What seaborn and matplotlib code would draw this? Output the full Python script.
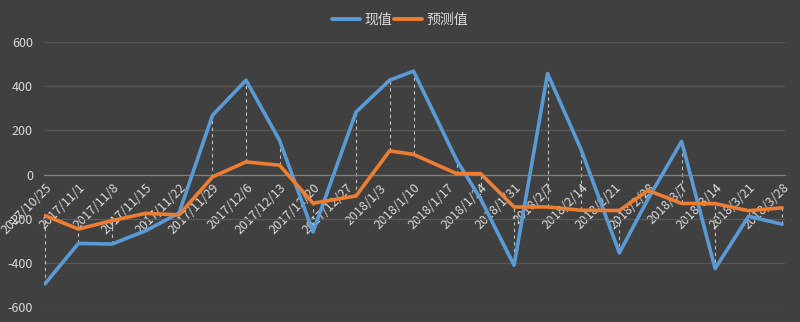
import matplotlib
matplotlib.use("Agg")
import matplotlib.pyplot as plt
import matplotlib.dates as mdates
import seaborn as sns
import pandas as pd
import numpy as np

dates = ["2017-10-25", "2017-11-01", "2017-11-08", "2017-11-15", "2017-11-22",
         "2017-11-29", "2017-12-06", "2017-12-13", "2017-12-20", "2017-12-29",
         "2018-01-05", "2018-01-10", "2018-01-19", "2018-01-24", "2018-01-31",
         "2018-02-07", "2018-02-14", "2018-02-22", "2018-02-28", "2018-03-07",
         "2018-03-14", "2018-03-21", "2018-03-28"]
actual = [-495, -312, -315, -255, -175, 268, 427, 155, -260, 283, 427, 468,
          65, -110, -411, 457, 113, -355, -110, 150, -426, -189, -225]
forecast = [-186, -247, -209, -176, -183, -11, 57, 42, -130, -97, 107, 91,
            4, 4, -147, -147, -162, -163, -72, -131, -132, -164, -151]
series_names = ["现值", "预测值"]
tick_dates = pd.date_range("2017-10-25", "2018-03-28", freq="7D")
tick_labels = [f"{d.year}/{d.month}/{d.day}" for d in tick_dates]
y_ticks = [-600, -400, -200, 0, 200, 400, 600]

bg = "#404040"
txt = "#d9d9d9"
grid = "#595959"
colors = ["#5b9bd5", "#ed7d31"]

sns.set_theme(style="dark")
plt.rcParams["font.family"] = ["Noto Sans CJK SC", "DejaVu Sans"]
plt.rcParams["axes.unicode_minus"] = False

df = pd.DataFrame({"date": pd.to_datetime(dates), series_names[0]: actual,
                   series_names[1]: forecast})
long = df.melt(id_vars="date", var_name="series", value_name="value")

fig = plt.figure(figsize=(8, 3.22), dpi=100, facecolor=bg)
ax = fig.add_axes([44 / 800, 1 - 307 / 322, (785 - 44) / 800, (307 - 42) / 322])
ax.set_facecolor(bg)

# high-low lines
lo = np.minimum(df[series_names[0]], df[series_names[1]])
hi = np.maximum(df[series_names[0]], df[series_names[1]])
ax.vlines(df["date"], lo, hi, colors="#bfbfbf", linestyles=(0, (3, 3)),
          linewidth=0.8, zorder=2)

sns.lineplot(data=long, x="date", y="value", hue="series", palette=colors,
             linewidth=2.6, ax=ax, legend=True, zorder=3)

ax.set_ylim(-600, 600)
x0 = mdates.date2num(pd.Timestamp("2017-10-25"))
x1 = mdates.date2num(pd.Timestamp("2018-03-28"))
ax.set_xlim(x0 - 0.2, x1 + 0.6)
ax.set_yticks(y_ticks)
ax.set_yticklabels([str(v) for v in y_ticks])
ax.yaxis.grid(True, color=grid, linewidth=0.9)
ax.xaxis.grid(False)
ax.set_xticks(mdates.date2num(tick_dates))
ax.set_xticklabels(tick_labels)
ax.set_xlabel("")
ax.set_ylabel("")

ax.spines["bottom"].set_position(("data", 0))
ax.spines["bottom"].set_color("#7f7f7f")
ax.spines["bottom"].set_linewidth(0.9)
for s in ["top", "right", "left"]:
    ax.spines[s].set_visible(False)
ax.tick_params(axis="x", colors=txt, labelsize=9, length=4, width=0.9,
               direction="out", pad=1, color="#7f7f7f", labelrotation=45)
ax.tick_params(axis="y", colors=txt, labelsize=9, length=0, pad=8)

handles, labels = ax.get_legend_handles_labels()
ax.get_legend().remove()
leg = fig.legend(handles, labels, loc="upper center", bbox_to_anchor=(0.5, 1.0),
                 ncol=2, frameon=False, fontsize=10, handlelength=2.0,
                 columnspacing=0.2, handletextpad=0.3)
for t in leg.get_texts():
    t.set_color(txt)
for h in leg.legend_handles:
    h.set_linewidth(2.8)

for lab in ax.get_xticklabels():
    lab.set_rotation(45)
    lab.set_horizontalalignment("right")
    lab.set_verticalalignment("top")
    lab.set_rotation_mode("anchor")
    lab.set_color(txt)

fig.savefig("out.png", dpi=100, facecolor=bg)
